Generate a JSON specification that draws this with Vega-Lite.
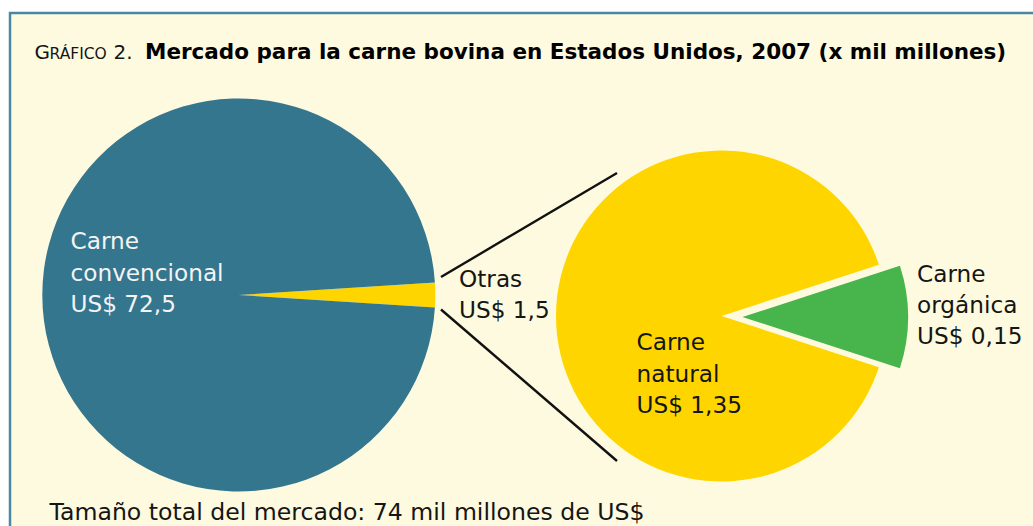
{
  "$schema": "https://vega.github.io/schema/vega-lite/v6.json",
  "width": 1030,
  "height": 520,
  "autosize": "none",
  "padding": {"left": 10, "top": 13, "right": 0, "bottom": 0},
  "background": "#FFFFFF",
  "view": {"fill": "#FEFADF", "stroke": "#4A87A3", "strokeWidth": 2.5},
  "config": {"font": "DejaVu Sans", "text": {"font": "DejaVu Sans"}},
  "datasets": {
    "mercado": [
      {"segmento": "Otras", "valor": 1.5, "orden": 1},
      {"segmento": "Carne convencional", "valor": 72.5, "orden": 2}
    ],
    "otras": [
      {"segmento": "Carne orgánica", "valor": 0.15, "orden": 1},
      {"segmento": "Carne natural", "valor": 1.35, "orden": 2}
    ]
  },
  "resolve": {"scale": {"theta": "independent"}},
  "layer": [
    {
      "data": {"name": "mercado"},
      "mark": {"type": "arc", "radius": 196.5},
      "encoding": {
        "x": {"datum": 238.8, "type": "quantitative", "scale": {"domain": [10, 1040], "nice": false, "zero": false}, "axis": null},
        "y": {"datum": 295, "type": "quantitative", "scale": {"domain": [13, 533], "nice": false, "zero": false, "reverse": true}, "axis": null},
        "theta": {"field": "valor", "type": "quantitative", "stack": true, "scale": {"range": [1.5071, 7.7903]}},
        "order": {"field": "orden", "type": "quantitative"},
        "color": {"field": "segmento", "type": "nominal", "legend": null,
          "scale": {"domain": ["Carne convencional", "Otras", "Carne natural", "Carne orgánica"], "range": ["#35768F", "#FFD500", "#FFD500", "#47B54B"]}}
      }
    },
    {
      "data": {"name": "otras"},
      "mark": {"type": "arc", "radius": 165.5},
      "encoding": {
        "x": {"datum": 721.5, "type": "quantitative", "axis": null},
        "y": {"datum": 316, "type": "quantitative", "axis": null},
        "theta": {"field": "valor", "type": "quantitative", "stack": true, "scale": {"range": [1.25664, 7.53982]}},
        "order": {"field": "orden", "type": "quantitative"},
        "color": {"field": "segmento", "type": "nominal", "legend": null},
        "opacity": {"condition": {"test": "datum.segmento === 'Carne orgánica'", "value": 0}, "value": 1}
      }
    },
    {
      "data": {"name": "otras"},
      "mark": {"type": "arc", "radius": 165.5, "xOffset": 21, "yOffset": 1},
      "encoding": {
        "x": {"datum": 721.5, "type": "quantitative", "axis": null},
        "y": {"datum": 316, "type": "quantitative", "axis": null},
        "theta": {"field": "valor", "type": "quantitative", "stack": true, "scale": {"range": [1.25664, 7.53982]}},
        "order": {"field": "orden", "type": "quantitative"},
        "color": {"field": "segmento", "type": "nominal", "legend": null},
        "opacity": {"condition": {"test": "datum.segmento === 'Carne orgánica'", "value": 1}, "value": 0}
      }
    },
    {
      "data": {"name": "mercado"},
      "transform": [{"filter": "datum.segmento === 'Otras'"}],
      "mark": {"type": "rule", "strokeWidth": 2.4, "color": "#111111"},
      "encoding": {
        "x": {"datum": 441, "type": "quantitative"}, "y": {"datum": 277, "type": "quantitative"},
        "x2": {"datum": 617}, "y2": {"datum": 173}
      }
    },
    {
      "data": {"name": "mercado"},
      "transform": [{"filter": "datum.segmento === 'Otras'"}],
      "mark": {"type": "rule", "strokeWidth": 2.4, "color": "#111111"},
      "encoding": {
        "x": {"datum": 441, "type": "quantitative"}, "y": {"datum": 309.5, "type": "quantitative"},
        "x2": {"datum": 617}, "y2": {"datum": 461}
      }
    },
    {
      "data": {"name": "mercado"},
      "transform": [{"filter": "datum.segmento === 'Carne convencional'"}],
      "mark": {"type": "text", "text": ["Carne", "convencional", "US$ 72,5"], "fontSize": 23.2, "lineHeight": 31.5, "align": "left", "baseline": "alphabetic", "color": "#F4F4F4"},
      "encoding": {"x": {"datum": 70.5, "type": "quantitative"}, "y": {"datum": 249, "type": "quantitative"}}
    },
    {
      "data": {"name": "mercado"},
      "transform": [{"filter": "datum.segmento === 'Otras'"}],
      "mark": {"type": "text", "text": ["Otras", "US$ 1,5"], "fontSize": 23.2, "lineHeight": 31.7, "align": "left", "baseline": "alphabetic", "color": "#151515"},
      "encoding": {"x": {"datum": 459, "type": "quantitative"}, "y": {"datum": 286.7, "type": "quantitative"}}
    },
    {
      "data": {"name": "otras"},
      "transform": [{"filter": "datum.segmento === 'Carne natural'"}],
      "mark": {"type": "text", "text": ["Carne", "natural", "US$ 1,35"], "fontSize": 23.2, "lineHeight": 31.7, "align": "left", "baseline": "alphabetic", "color": "#151515"},
      "encoding": {"x": {"datum": 636.5, "type": "quantitative"}, "y": {"datum": 350, "type": "quantitative"}}
    },
    {
      "data": {"name": "otras"},
      "transform": [{"filter": "datum.segmento === 'Carne orgánica'"}],
      "mark": {"type": "text", "text": ["Carne", "orgánica", "US$ 0,15"], "fontSize": 23.2, "lineHeight": 31.3, "align": "left", "baseline": "alphabetic", "color": "#151515"},
      "encoding": {"x": {"datum": 917, "type": "quantitative"}, "y": {"datum": 281.7, "type": "quantitative"}}
    },
    {
      "data": {"name": "mercado"},
      "transform": [{"filter": "datum.segmento === 'Carne convencional'"}],
      "mark": {"type": "text", "text": "Tamaño total del mercado: 74 mil millones de US$", "fontSize": 23.6, "align": "left", "baseline": "alphabetic", "color": "#151515"},
      "encoding": {"x": {"datum": 49.5, "type": "quantitative"}, "y": {"datum": 520, "type": "quantitative"}}
    },
    {
      "data": {"name": "mercado"},
      "transform": [{"filter": "datum.segmento === 'Carne convencional'"}],
      "mark": {"type": "text", "text": "G", "fontSize": 20, "align": "left", "baseline": "alphabetic", "color": "#151515"},
      "encoding": {"x": {"datum": 34.5, "type": "quantitative"}, "y": {"datum": 59, "type": "quantitative"}}
    },
    {
      "data": {"name": "mercado"},
      "transform": [{"filter": "datum.segmento === 'Carne convencional'"}],
      "mark": {"type": "text", "text": "RÁFICO", "fontSize": 15.5, "align": "left", "baseline": "alphabetic", "color": "#151515"},
      "encoding": {"x": {"datum": 49.5, "type": "quantitative"}, "y": {"datum": 59, "type": "quantitative"}}
    },
    {
      "data": {"name": "mercado"},
      "transform": [{"filter": "datum.segmento === 'Carne convencional'"}],
      "mark": {"type": "text", "text": "2.", "fontSize": 20, "align": "left", "baseline": "alphabetic", "color": "#151515"},
      "encoding": {"x": {"datum": 113.5, "type": "quantitative"}, "y": {"datum": 59, "type": "quantitative"}}
    },
    {
      "data": {"name": "mercado"},
      "transform": [{"filter": "datum.segmento === 'Carne convencional'"}],
      "mark": {"type": "text", "text": "Mercado para la carne bovina en Estados Unidos, 2007 (x mil millones)", "fontSize": 21.5, "fontWeight": "bold", "align": "left", "baseline": "alphabetic", "color": "#000000"},
      "encoding": {"x": {"datum": 145, "type": "quantitative"}, "y": {"datum": 59, "type": "quantitative"}}
    }
  ]
}
